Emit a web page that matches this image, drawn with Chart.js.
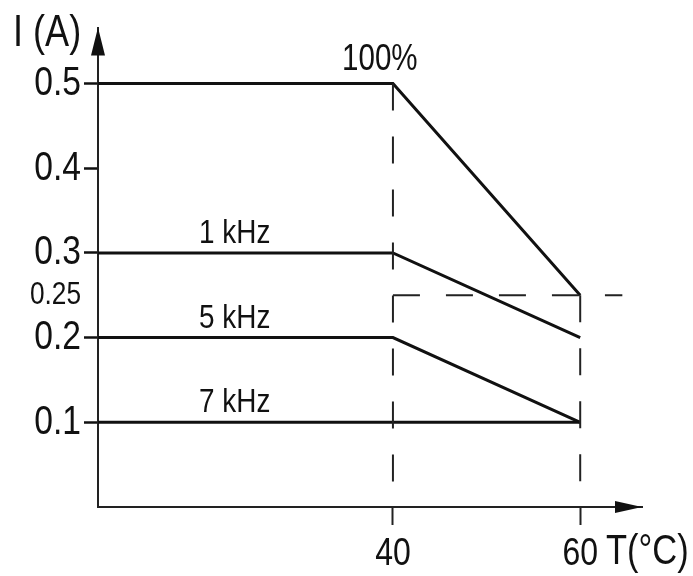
<!DOCTYPE html>
<html>
<head>
<meta charset="utf-8">
<script src="https://cdn.jsdelivr.net/npm/chart.js"></script>
<style>
  html, body { margin: 0; padding: 0; background: #fff; }
  #wrap { width: 693px; height: 576px; }
</style>
</head>
<body>
<div id="wrap"><canvas id="chart" width="693" height="576"></canvas></div>
<script>
// Derating curve: current I (A) vs temperature T (°C)
const T_MIN = 8.5;                 // where the axes cross (unlabelled)
const T_MAX = 66.6;
const I_MAX = 0.566;
const temps = [T_MIN, 40, 60];

const curveLabels = ["100%", "1 kHz", "5 kHz", "7 kHz"];
const curve100 = [0.5, 0.5, 0.25];
const curve1k  = [0.3, 0.3, 0.2];
const curve5k  = [0.2, 0.2, 0.1];
const curve7k  = [0.1, 0.1, 0.1];

const yTicks = [0.1, 0.2, 0.25, 0.3, 0.4, 0.5];
const xTicks = [40, 60];

// dashed guide lines
const guide40 = [[40, 0.5], [40, 0]];
const guide60 = [[60, 0.25], [60, 0]];
const guide025 = [[40, 0.25], [64.5, 0.25]];

const FONT = "'Liberation Sans', Arial, sans-serif";
const INK = "#111";
const NARROW = 0.82;   // the drawing uses a narrow typeface, squeeze text horizontally

const canvas = document.getElementById("chart");
const ctx2d = canvas.getContext("2d");
const rawFillText = ctx2d.fillText;
ctx2d.fillText = function (text, x, y, maxWidth) {
  this.save();
  this.translate(x, y);
  this.scale(NARROW, 1);
  rawFillText.call(this, text, 0, 0);
  this.restore();
};

function pts(ys) { return temps.map((t, i) => ({ x: t, y: ys[i] })); }
function pairs(arr) { return arr.map(p => ({ x: p[0], y: p[1] })); }

const solid = (label, ys) => ({
  label, data: pts(ys), borderColor: INK, borderWidth: 3,
  pointRadius: 0, tension: 0, fill: false
});
const dashed = (data) => ({
  data: pairs(data), borderColor: "#222", borderWidth: 2, borderDash: [27, 26],
  pointRadius: 0, tension: 0, fill: false
});

// curve name texts, the arrows and the axis names
const annotations = {
  id: "annotations",
  afterDraw(chart) {
    const { ctx, scales: { x, y } } = chart;
    ctx.save();
    ctx.fillStyle = INK;

    // arrow heads
    const left = x.left, bottom = y.bottom;
    ctx.beginPath();
    ctx.moveTo(left, y.top);
    ctx.lineTo(left - 7, y.top + 28);
    ctx.lineTo(left + 7, y.top + 28);
    ctx.closePath();
    ctx.fill();
    ctx.beginPath();
    ctx.moveTo(x.right, bottom);
    ctx.lineTo(x.right - 27, bottom - 6);
    ctx.lineTo(x.right - 27, bottom + 6);
    ctx.closePath();
    ctx.fill();

    ctx.textAlign = "center";
    ctx.textBaseline = "alphabetic";
    ctx.font = "36px " + FONT;
    ctx.fillText(curveLabels[0], x.getPixelForValue(38.6), y.getPixelForValue(curve100[0]) - 14);
    ctx.font = "34px " + FONT;
    [[curve1k, 1], [curve5k, 2], [curve7k, 3]].forEach(([c, i]) => {
      ctx.fillText(curveLabels[i], x.getPixelForValue(23.1), y.getPixelForValue(c[0]) - 10);
    });

    ctx.textAlign = "left";
    ctx.font = "44px " + FONT;
    ctx.fillText("I (A)", 13, 46);
    ctx.font = "42px " + FONT;
    ctx.fillText("T(°C)", 606, 564);
    ctx.restore();
  }
};

new Chart(canvas, {
  type: "line",
  data: {
    datasets: [
      dashed(guide40), dashed(guide60), dashed(guide025),
      solid(curveLabels[0], curve100),
      solid(curveLabels[1], curve1k),
      solid(curveLabels[2], curve5k),
      solid(curveLabels[3], curve7k)
    ]
  },
  options: {
    responsive: false,
    animation: false,
    layout: { padding: { left: 0, top: 20, right: 51, bottom: 0 } },
    plugins: { legend: { display: false }, tooltip: { enabled: false } },
    scales: {
      x: {
        type: "linear", min: T_MIN, max: T_MAX,
        afterFit(s) { s.height = 69; },
        afterBuildTicks(s) { s.ticks = xTicks.map(v => ({ value: v })); },
        border: { display: true, color: "#222", width: 2 },
        grid: { drawOnChartArea: false, drawTicks: true, tickLength: 18, tickWidth: 2, tickColor: "#222" },
        ticks: { color: INK, padding: 6, font: { family: FONT, size: 39 }, callback: v => String(v) }
      },
      y: {
        type: "linear", min: 0, max: I_MAX,
        afterFit(s) { s.width = 98; },
        afterBuildTicks(s) { s.ticks = yTicks.map(v => ({ value: v })); },
        border: { display: true, color: "#222", width: 2 },
        grid: {
          drawOnChartArea: false, drawTicks: true, tickLength: 14, tickWidth: 2.5,
          tickColor: c => (c.tick && c.tick.value === 0.25 ? "rgba(0,0,0,0)" : INK)
        },
        ticks: {
          color: INK, padding: 3,
          font: c => ({ family: FONT, size: c.tick && c.tick.value === 0.25 ? 32 : 41 }),
          callback: v => String(v)
        }
      }
    }
  },
  plugins: [annotations]
});
</script>
</body>
</html>
